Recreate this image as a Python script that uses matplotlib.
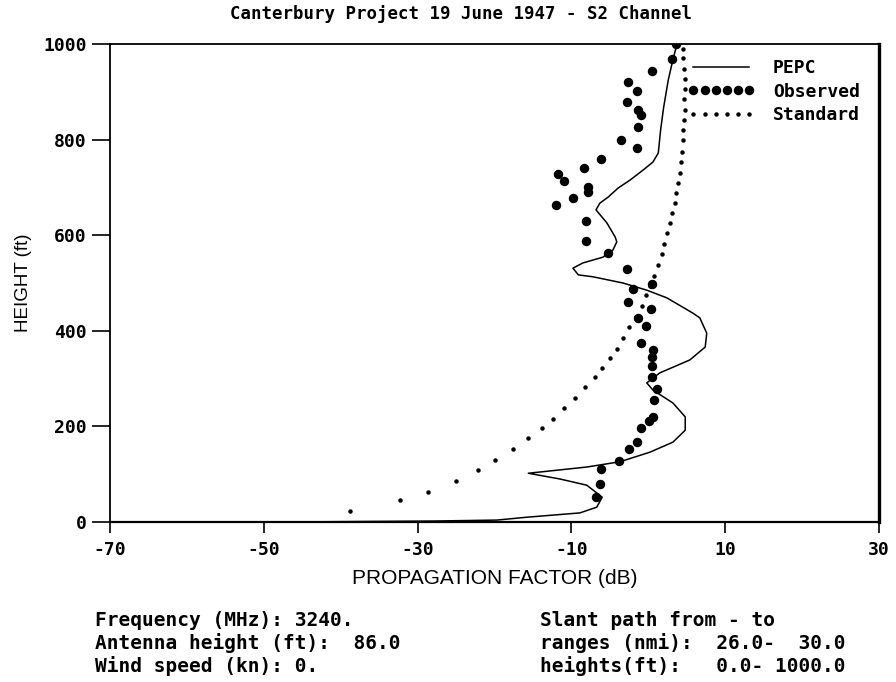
import matplotlib
matplotlib.use("Agg")
import matplotlib.pyplot as plt
import numpy as np

# PEPC computed curve (height ft, dB)
pepc_h = [0, 1, 2, 4, 10, 19, 31, 52, 77, 90, 102, 109, 115, 126, 146, 167, 192, 220,
          249, 276, 291, 312, 339, 366, 395, 427, 437, 469, 485, 500, 513, 517, 531,
          542, 554, 569, 586, 596, 626, 653, 667, 680, 699, 715, 736, 753, 772, 820,
          868, 925, 967, 998]
pepc_db = [-46.0, -38.0, -28.0, -19.7, -15.8, -8.9, -6.7, -6.0, -8.0, -11.5, -15.6,
           -11.5, -8.0, -3.7, 0.2, 3.2, 4.8, 4.8, 3.2, 0.6, -0.2, 1.5, 5.4, 7.4, 7.6,
           6.7, 5.8, 2.4, -0.2, -3.3, -7.2, -9.1, -9.8, -8.5, -5.9, -4.6, -4.1, -4.3,
           -5.4, -6.8, -6.3, -5.2, -3.9, -2.4, -0.7, 0.6, 1.3, 1.6, 2.0, 2.6, 3.2, 3.7]

# observed points
obs_h = [1000, 969, 944, 920, 902, 879, 862, 851, 826, 799, 782, 759, 741, 728, 713,
         701, 690, 678, 663, 630, 588, 563, 529, 498, 487, 460, 446, 427, 410, 374,
         360, 345, 326, 303, 278, 255, 220, 211, 197, 167, 153, 128, 111, 80, 52]
obs_db = [3.6, 3.1, 0.5, -2.6, -1.5, -2.8, -1.3, -0.9, -1.3, -3.5, -1.5, -6.2, -8.4,
          -11.7, -11.0, -7.8, -7.8, -9.8, -12.0, -8.1, -8.1, -5.2, -2.8, 0.5, -2.0,
          -2.6, 0.4, -1.3, -0.3, -1.0, 0.6, 0.5, 0.5, 0.5, 1.1, 0.7, 0.6, 0.1, -1.0,
          -1.5, -2.5, -3.8, -6.2, -6.3, -6.8]

# standard atmosphere
std_h = [990, 971, 948, 927, 906, 885, 862, 841, 820, 799, 774, 753, 730, 709, 688,
         667, 646, 625, 604, 582, 561, 538, 515, 494, 475, 452, 429, 408, 385, 362,
         343, 322, 303, 282, 259, 238, 215, 197, 176, 153, 130, 109, 86, 63, 46, 23]
std_db = [4.5, 4.5, 4.6, 4.8, 4.8, 4.6, 4.8, 4.6, 4.5, 4.5, 4.4, 4.3, 4.1, 3.9, 3.6,
          3.5, 3.1, 2.8, 2.4, 2.0, 1.8, 1.3, 0.7, 0.2, -0.3, -0.8, -1.6, -2.5, -3.3,
          -4.1, -5.0, -6.0, -6.9, -8.2, -9.5, -11.0, -12.4, -13.8, -15.6, -17.6,
          -19.9, -22.2, -25.0, -28.7, -32.3, -38.8]

xticks = [-70, -50, -30, -10, 10, 30]
yticks = [0, 200, 400, 600, 800, 1000]

mono = "DejaVu Sans Mono"

fig = plt.figure(figsize=(8.96, 6.82), dpi=100)
ax = fig.add_axes([110/896, 1-522/682, 769/896, 478/682])

ax.plot(pepc_db, pepc_h, color="black", lw=1.1, label="PEPC")
ax.plot(obs_db, obs_h, ls="none", marker="o", ms=5.8, color="black", label="Observed", zorder=4)
ax.plot(std_db, std_h, ls="none", marker="o", ms=2.2, color="black", label="Standard")

ax.set_xlim(-70, 30)
ax.set_ylim(0, 1000)
ax.set_xticks(xticks)
ax.set_yticks(yticks)
ax.set_xticklabels([str(t) for t in xticks], family=mono, weight="bold", fontsize=13)
ax.set_yticklabels([str(t) for t in yticks], family=mono, weight="bold", fontsize=13)
ax.tick_params(axis="x", direction="out", length=8, width=1.2, pad=6)
ax.tick_params(axis="y", direction="out", length=13, width=1.2, pad=4)
for side, w in [("left", 1.3), ("bottom", 1.6), ("right", 2.4), ("top", 1.3)]:
    ax.spines[side].set_linewidth(w)

ax.set_xlabel("PROPAGATION FACTOR (dB)", family="Liberation Sans", fontsize=15, labelpad=7)
ax.set_ylabel("HEIGHT (ft)", family="Liberation Sans", fontsize=13.5, labelpad=8)

ax.legend(loc="upper left", bbox_to_anchor=(0.7516, 0.968), frameon=False, borderpad=0,
          borderaxespad=0, numpoints=6, handlelength=3.7, handletextpad=1.0,
          labelspacing=0.3, prop={"family": mono, "weight": "bold", "size": 13})

fig.text(461/896, 1-14/682, "Canterbury Project 19 June 1947 - S2 Channel", family=mono,
         weight="bold", fontsize=12.5, ha="center", va="center")

left_lines = ["Frequency (MHz): 3240.", "Antenna height (ft):  86.0", "Wind speed (kn): 0."]
right_lines = ["Slant path from - to", "ranges (nmi):  26.0-  30.0", "heights(ft):   0.0- 1000.0"]
for i, (a, b) in enumerate(zip(left_lines, right_lines)):
    y = 1 - (620 + 23*i)/682
    fig.text(95/896, y, a, family=mono, weight="bold", fontsize=14, va="center")
    fig.text(540/896, y, b, family=mono, weight="bold", fontsize=14, va="center")

fig.savefig("out.png", dpi=100)
